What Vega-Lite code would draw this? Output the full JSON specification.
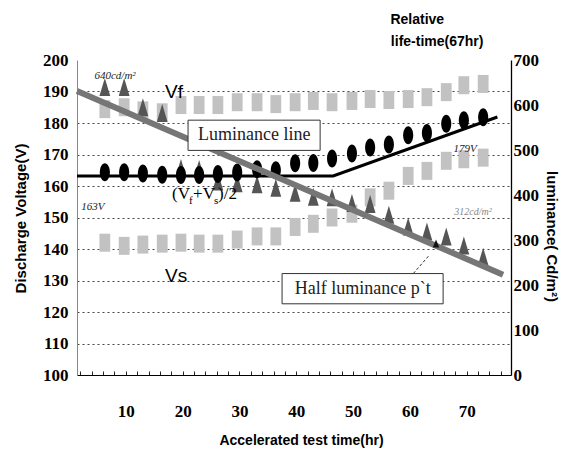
{
  "$schema": "https://vega.github.io/schema/vega-lite/v6.json",
  "width": 434,
  "height": 315,
  "autosize": {"type": "none"},
  "padding": {"left": 77, "top": 60, "right": 62, "bottom": 77},
  "background": "white",
  "config": {
    "view": {"stroke": null},
    "axis": {"labelFont": "Liberation Sans Narrow", "titleFont": "Liberation Sans", "labelColor": "#000", "titleColor": "#000"}
  },
  "datasets": {
    "pts": [
      {"hr": 6.3, "vf": 184.4, "vs": 142.0, "mid": 164.4, "lum": 640},
      {"hr": 9.7, "vf": 185.0, "vs": 141.0, "mid": 164.4, "lum": 640},
      {"hr": 13.0, "vf": 184.0, "vs": 141.4, "mid": 164.0, "lum": 595},
      {"hr": 16.4, "vf": 183.4, "vs": 141.7, "mid": 163.6, "lum": 582},
      {"hr": 19.7, "vf": 185.7, "vs": 142.0, "mid": 163.5, "lum": 460},
      {"hr": 22.9, "vf": 185.7, "vs": 141.7, "mid": 163.5, "lum": 458},
      {"hr": 26.2, "vf": 185.7, "vs": 141.7, "mid": 163.8, "lum": 430},
      {"hr": 29.6, "vf": 186.6, "vs": 143.0, "mid": 164.3, "lum": 426},
      {"hr": 33.1, "vf": 186.6, "vs": 144.0, "mid": 165.3, "lum": 424},
      {"hr": 36.4, "vf": 186.0, "vs": 144.0, "mid": 165.0, "lum": 416},
      {"hr": 39.8, "vf": 186.6, "vs": 147.0, "mid": 167.2, "lum": 405},
      {"hr": 43.0, "vf": 187.0, "vs": 148.0, "mid": 167.3, "lum": 396},
      {"hr": 46.3, "vf": 186.6, "vs": 150.0, "mid": 168.7, "lum": 395},
      {"hr": 49.8, "vf": 187.0, "vs": 151.2, "mid": 170.3, "lum": 382},
      {"hr": 53.0, "vf": 187.6, "vs": 156.4, "mid": 172.2, "lum": 380},
      {"hr": 56.3, "vf": 187.3, "vs": 158.5, "mid": 173.2, "lum": 356},
      {"hr": 59.7, "vf": 187.6, "vs": 163.2, "mid": 176.1, "lum": 330},
      {"hr": 63.0, "vf": 188.2, "vs": 164.8, "mid": 176.8, "lum": 319},
      {"hr": 66.4, "vf": 189.8, "vs": 168.0, "mid": 179.8, "lum": 308},
      {"hr": 69.5, "vf": 192.0, "vs": 168.5, "mid": 180.9, "lum": 288},
      {"hr": 72.9, "vf": 192.4, "vs": 169.0, "mid": 181.8, "lum": 263}
    ],
    "midline": [
      {"hr": 1.4, "volt": 163.2},
      {"hr": 46.5, "volt": 163.2},
      {"hr": 75.4, "volt": 181.9}
    ],
    "lumline": [
      {"hr": 1.4, "lum": 631},
      {"hr": 76.4, "lum": 223}
    ],
    "halfpt": [
      {"hr": 64.6, "lum": 292}
    ],
    "boxes": [
      {"hr": 20.95, "hr2": 44.2, "volt": 180.9, "volt2": 171.3},
      {"hr": 37.5, "hr2": 65.85, "volt": 132.2, "volt2": 122.6}
    ],
    "leader": [
      {"hr": 60.6, "volt": 132.2, "hr2": 63.3, "volt2": 137.8}
    ],
    "serifLabels": [
      {"hr": 32.6, "volt": 176.1, "t": "Luminance line"},
      {"hr": 51.7, "volt": 127.4, "t": "Half luminance p`t"}
    ],
    "bigV": [
      {"hr": 16.9, "volt": 190.0, "t": "Vf"},
      {"hr": 16.9, "volt": 131.4, "t": "Vs"}
    ],
    "midBig": [
      {"hr": 18.13, "volt": 156.0, "t": "(V"},
      {"hr": 21.83, "volt": 156.0, "t": "+V"},
      {"hr": 26.23, "volt": 156.0, "t": ")/2"}
    ],
    "midSub": [
      {"hr": 21.13, "volt": 154.4, "t": "f"},
      {"hr": 25.53, "volt": 154.4, "t": "s"}
    ],
    "smallNotes": [
      {"hr": 8.1, "volt": 194.9, "t": "640cd/m²"},
      {"hr": 4.2, "volt": 153.2, "t": "163V"},
      {"hr": 69.7, "volt": 171.7, "t": "179V"}
    ],
    "greyNote": [
      {"hr": 71.1, "volt": 151.6, "t": "312cd/m²"}
    ],
    "topNote": [
      {"hr": 61.3, "volt": 212.7, "t": "Relative"},
      {"hr": 64.8, "volt": 205.6, "t": "life-time(67hr)"}
    ]
  },
  "encoding": {
    "x": {
      "field": "hr",
      "type": "quantitative",
      "scale": {"domain": [1.4, 77.8], "nice": false, "zero": false},
      "axis": {
        "values": [2,4,6,8,10,12,14,16,18,20,22,24,26,28,30,32,34,36,38,40,42,44,46,48,50,52,54,56,58,60,62,64,66,68,70,72,74,76],
        "labelExpr": "datum.value % 10 === 0 ? datum.label : ''",
        "tickSize": -4,
        "tickColor": "#222",
        "domainColor": "#000",
        "domainWidth": 1.2,
        "labelFontSize": 17,
        "labelFontWeight": "bold",
        "labelPadding": 32,
        "labelFlush": false,
        "labelOverlap": false,
        "grid": false,
        "title": "Accelerated test time(hr)",
        "titleFontSize": 14,
        "titleFontWeight": "bold",
        "titleX": 224,
        "titleY": 65,
        "titleBaseline": "middle",
        "titleAlign": "center"
      }
    }
  },
  "layer": [
    {
      "data": {"name": "pts"},
      "mark": {"type": "point", "shape": "M-0.6,-1L0.6,-1L0.6,1L-0.6,1Z", "filled": true, "fill": "#c2c2c2", "opacity": 1, "size": 324},
      "encoding": {
        "y": {
          "field": "vf",
          "type": "quantitative",
          "scale": {"domain": [100, 200], "nice": false, "zero": false},
          "axis": {
            "orient": "left",
            "values": [100,110,120,130,140,150,160,170,180,190,200],
            "grid": true,
            "gridDash": [2, 3],
            "gridColor": "#444",
            "gridOpacity": {"condition": {"test": "datum.value >= 200 || datum.value <= 100", "value": 0}, "value": 1},
            "ticks": false,
            "domainColor": "#888",
            "domainWidth": 1,
            "labelFontSize": 17,
            "labelFontWeight": "bold",
            "labelPadding": 9,
            "title": "Discharge Voltage(V)",
            "titleFontSize": 15,
            "titleFontWeight": "bold",
            "titleX": -57,
            "titleY": 158,
            "titleBaseline": "middle",
            "titleAlign": "center"
          }
        }
      }
    },
    {
      "data": {"name": "pts"},
      "mark": {"type": "point", "shape": "M-0.6,-1L0.6,-1L0.6,1L-0.6,1Z", "filled": true, "fill": "#c2c2c2", "opacity": 1, "size": 324},
      "encoding": {
        "y": {"field": "vs", "type": "quantitative", "scale": {"domain": [100, 200], "nice": false, "zero": false}, "axis": null}
      }
    },
    {
      "data": {"name": "pts"},
      "mark": {"type": "point", "shape": "M0,-1L0.6,1L-0.6,1Z", "filled": true, "fill": "#555555", "opacity": 1, "size": 324},
      "encoding": {
        "y": {
          "field": "lum",
          "type": "quantitative",
          "scale": {"domain": [0, 700], "nice": false, "zero": false},
          "axis": {
            "orient": "right",
            "values": [0,100,200,300,400,500,600,700],
            "grid": false,
            "ticks": false,
            "domainColor": "#000",
            "domainWidth": 1.3,
            "labelFontSize": 17,
            "labelFontWeight": "bold",
            "labelPadding": 2,
            "title": "luminance( Cd/m²)",
            "titleFontSize": 15,
            "titleFontWeight": "bold",
            "titleAngle": 90,
            "titleX": 40,
            "titleY": 176,
            "titleBaseline": "middle",
            "titleAlign": "center"
          }
        }
      }
    },
    {
      "layer": [
        {
          "data": {"name": "pts"},
          "mark": {"type": "point", "shape": "M0,-1C0.31,-1 0.56,-0.552 0.56,0C0.56,0.552 0.31,1 0,1C-0.31,1 -0.56,0.552 -0.56,0C-0.56,-0.552 -0.31,-1 0,-1Z", "filled": true, "fill": "#000", "opacity": 1, "size": 324},
          "encoding": {
            "y": {"field": "mid", "type": "quantitative", "scale": {"domain": [100, 200], "nice": false, "zero": false}, "axis": null}
          }
        },
        {
          "data": {"name": "midline"},
          "mark": {"type": "line", "color": "#000", "strokeWidth": 3},
          "encoding": {
            "y": {"field": "volt", "type": "quantitative", "scale": {"domain": [100, 200], "nice": false, "zero": false}, "axis": null}
          }
        }
      ]
    },
    {
      "layer": [
        {
          "data": {"name": "lumline"},
          "mark": {"type": "line", "color": "#767676", "strokeWidth": 6},
          "encoding": {
            "y": {"field": "lum", "type": "quantitative", "scale": {"domain": [0, 700], "nice": false, "zero": false}, "axis": null}
          }
        },
        {
          "data": {"name": "halfpt"},
          "mark": {"type": "point", "shape": "M0,-1L0.8,1L-0.8,1Z", "filled": true, "fill": "#111", "opacity": 1, "size": 64},
          "encoding": {
            "y": {"field": "lum", "type": "quantitative", "scale": {"domain": [0, 700], "nice": false, "zero": false}, "axis": null}
          }
        }
      ]
    },
    {
      "layer": [
        {
          "data": {"name": "boxes"},
          "mark": {"type": "rect", "fill": "white", "stroke": "#333", "strokeWidth": 1},
          "encoding": {
            "x2": {"field": "hr2"},
            "y": {"field": "volt", "type": "quantitative", "scale": {"domain": [100, 200], "nice": false, "zero": false}, "axis": null},
            "y2": {"field": "volt2"}
          }
        },
        {
          "data": {"name": "leader"},
          "mark": {"type": "rule", "color": "#333", "strokeWidth": 1, "strokeDash": [3, 2]},
          "encoding": {
            "x2": {"field": "hr2"},
            "y": {"field": "volt", "type": "quantitative", "scale": {"domain": [100, 200], "nice": false, "zero": false}, "axis": null},
            "y2": {"field": "volt2"}
          }
        },
        {
          "data": {"name": "serifLabels"},
          "mark": {"type": "text", "font": "Liberation Serif", "fontSize": 18, "color": "#222", "align": "center", "baseline": "middle"},
          "encoding": {
            "y": {"field": "volt", "type": "quantitative", "scale": {"domain": [100, 200], "nice": false, "zero": false}, "axis": null},
            "text": {"field": "t"}
          }
        },
        {
          "data": {"name": "bigV"},
          "mark": {"type": "text", "font": "Liberation Sans", "fontSize": 19, "color": "#000", "align": "left", "baseline": "middle"},
          "encoding": {
            "y": {"field": "volt", "type": "quantitative", "scale": {"domain": [100, 200], "nice": false, "zero": false}, "axis": null},
            "text": {"field": "t"}
          }
        },
        {
          "data": {"name": "midBig"},
          "mark": {"type": "text", "font": "Liberation Serif", "fontSize": 17, "color": "#000", "align": "left", "baseline": "alphabetic"},
          "encoding": {
            "y": {"field": "volt", "type": "quantitative", "scale": {"domain": [100, 200], "nice": false, "zero": false}, "axis": null},
            "text": {"field": "t"}
          }
        },
        {
          "data": {"name": "midSub"},
          "mark": {"type": "text", "font": "Liberation Serif", "fontSize": 11, "color": "#000", "align": "left", "baseline": "alphabetic"},
          "encoding": {
            "y": {"field": "volt", "type": "quantitative", "scale": {"domain": [100, 200], "nice": false, "zero": false}, "axis": null},
            "text": {"field": "t"}
          }
        },
        {
          "data": {"name": "smallNotes"},
          "mark": {"type": "text", "font": "Liberation Serif", "fontStyle": "italic", "fontSize": 11, "color": "#222", "align": "center", "baseline": "middle"},
          "encoding": {
            "y": {"field": "volt", "type": "quantitative", "scale": {"domain": [100, 200], "nice": false, "zero": false}, "axis": null},
            "text": {"field": "t"}
          }
        },
        {
          "data": {"name": "greyNote"},
          "mark": {"type": "text", "font": "Liberation Serif", "fontStyle": "italic", "fontSize": 10, "color": "#888", "align": "center", "baseline": "middle"},
          "encoding": {
            "y": {"field": "volt", "type": "quantitative", "scale": {"domain": [100, 200], "nice": false, "zero": false}, "axis": null},
            "text": {"field": "t"}
          }
        },
        {
          "data": {"name": "topNote"},
          "mark": {"type": "text", "font": "Liberation Sans", "fontWeight": "bold", "fontSize": 14, "color": "#000", "align": "center", "baseline": "middle"},
          "encoding": {
            "y": {"field": "volt", "type": "quantitative", "scale": {"domain": [100, 200], "nice": false, "zero": false}, "axis": null},
            "text": {"field": "t"}
          }
        }
      ]
    }
  ],
  "resolve": {"scale": {"y": "independent"}}
}
